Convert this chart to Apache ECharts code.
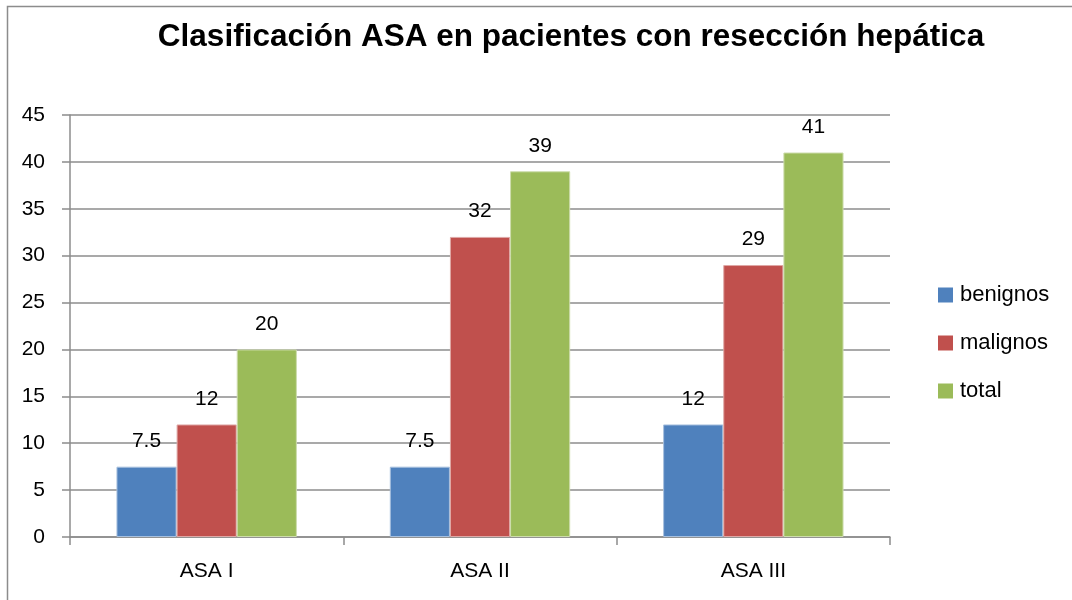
<!DOCTYPE html>
<html>
<head>
<meta charset="utf-8">
<script src="https://cdn.jsdelivr.net/npm/echarts@6/dist/echarts.min.js"></script>
<style>
  html, body { margin: 0; padding: 0; background: #fff; }
  #chart { width: 1072px; height: 600px; }
</style>
</head>
<body>
<div id="chart"></div>
<script>
const categories = ['ASA I', 'ASA II', 'ASA III']
const benignos = [7.5, 7.5, 12]
const malignos = [12, 32, 29]
const total = [20, 39, 41]

const font = 'Liberation Sans, Arial, sans-serif'
const labelStyle = { show: true, position: 'top', distance: 15, color: '#000', fontSize: 21, fontFamily: font }

const chart = echarts.init(document.getElementById('chart'))
chart.setOption({
  backgroundColor: '#fff',
  animation: false,
  graphic: [{
    type: 'rect',
    shape: { x: 7.5, y: 6.5, width: 1200, height: 700 },
    style: { fill: 'none', stroke: '#8c8c8c', lineWidth: 1.5 }
  }],
  title: {
    text: 'Clasificación ASA en pacientes con resección hepática',
    left: 566,
    textAlign: 'center',
    top: 16,
    textStyle: { color: '#000', fontSize: 31.5, fontWeight: 'bold', fontFamily: font }
  },
  legend: {
    orient: 'vertical',
    left: 933,
    top: 279,
    itemWidth: 15,
    itemHeight: 15,
    itemGap: 26,
    icon: 'rect',
    itemStyle: { borderWidth: 0 },
    textStyle: { color: '#000', fontSize: 22, fontFamily: font, padding: [0, 0, 0, 2] },
    data: ['benignos', 'malignos', 'total']
  },
  grid: { left: 70, right: 182, top: 115, bottom: 63 },
  xAxis: {
    type: 'category',
    data: categories,
    axisLine: { lineStyle: { color: '#8c8c8c', width: 1.5 } },
    axisTick: { show: true, length: 8, lineStyle: { color: '#8c8c8c', width: 1.5 } },
    axisLabel: { color: '#000', fontSize: 21, fontFamily: font, margin: 24 }
  },
  yAxis: {
    type: 'value',
    min: 0,
    max: 45,
    interval: 5,
    axisLine: { show: true, lineStyle: { color: '#8c8c8c', width: 1.5 } },
    axisTick: { show: true, length: 8, lineStyle: { color: '#8c8c8c', width: 1.5 } },
    splitLine: { lineStyle: { color: '#8c8c8c', width: 1.5 } },
    axisLabel: { color: '#000', fontSize: 21, fontFamily: font, margin: 25 }
  },
  series: [
    {
      name: 'benignos', type: 'bar', data: benignos, barGap: '0%', barCategoryGap: '34%',
      itemStyle: { color: '#4f81bd', borderColor: '#a7c0de', borderWidth: 1 },
      label: labelStyle
    },
    {
      name: 'malignos', type: 'bar', data: malignos,
      itemStyle: { color: '#c0504d', borderColor: '#dfa8a6', borderWidth: 1 },
      label: labelStyle
    },
    {
      name: 'total', type: 'bar', data: total,
      itemStyle: { color: '#9bbb59', borderColor: '#cddcac', borderWidth: 1 },
      label: labelStyle
    }
  ]
})
</script>
</body>
</html>
